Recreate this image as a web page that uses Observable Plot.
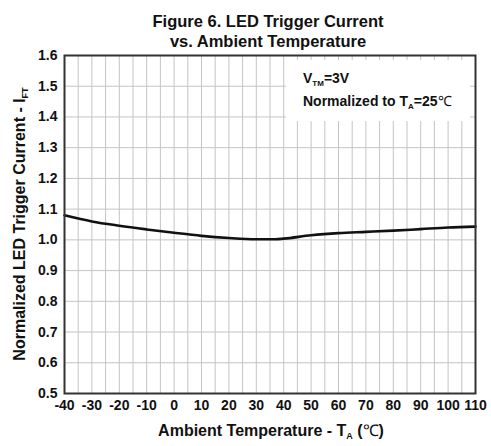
<!DOCTYPE html>
<html><head><meta charset="utf-8">
<script src="https://cdn.jsdelivr.net/npm/d3@7"></script>
<script src="https://cdn.jsdelivr.net/npm/@observablehq/plot@0.6"></script>
<style>
body{margin:0;background:#fff;}
svg text{font-family:"Liberation Sans",Arial,sans-serif;}
</style></head>
<body><div id="chart"></div>
<script>
const temps = [-40,-30,-20,-10,0,10,20,30,37,40,50,60,70,80,90,100,110];
const current = [1.080,1.060,1.046,1.034,1.023,1.013,1.006,1.002,1.002,1.004,1.015,1.022,1.026,1.030,1.035,1.040,1.043];
const xTicks = [-40,-30,-20,-10,0,10,20,30,40,50,60,70,80,90,100,110];
const yTicks = [0.5,0.6,0.7,0.8,0.9,1.0,1.1,1.2,1.3,1.4,1.5,1.6];
const xGrid = d3.range(-40, 111, 5);
const titleLines = ["Figure 6. LED Trigger Current","vs. Ambient Temperature"];

const data = temps.map((t,i)=>({t, v: current[i]}));

const plot = Plot.plot({
  width: 491, height: 446,
  marginLeft: 64, marginRight: 16, marginTop: 55, marginBottom: 53,
  x: {domain: [-40,110]},
  y: {domain: [0.5,1.6]},
  style: {fontFamily: "Liberation Sans, Arial, sans-serif", background: "#fff"},
  marks: [
    Plot.ruleX(xGrid, {stroke: "#c4c4c4", strokeWidth: 1}),
    Plot.ruleY(yTicks, {stroke: "#c4c4c4", strokeWidth: 1}),
    Plot.rect([{x1: 41, x2: 110, y1: 1.385, y2: 1.6}], {x1:"x1", x2:"x2", y1:"y1", y2:"y2", fill: "#fff", insetTop: 5, insetRight: 5}),
    Plot.line(data, {x: "t", y: "v", stroke: "#111", strokeWidth: 2.6, curve: "monotone-x"}),
    Plot.frame({stroke: "#333", strokeWidth: 2}),
    Plot.axisX(xTicks, {tickSize: 0, tickPadding: 7, fontSize: 14, fontWeight: "bold", fill: "#111", label: null, tickFormat: d=>String(d)}),
    Plot.axisY(yTicks, {tickSize: 0, tickPadding: 7, fontSize: 14, fontWeight: "bold", fill: "#111", label: null, tickFormat: d=>d.toFixed(1)})
  ]
});
document.getElementById("chart").appendChild(plot);

const svg = d3.select(plot);
const xs = plot.scale("x"), ys = plot.scale("y");
// title
titleLines.forEach((s,i)=>{
  svg.append("text").attr("x", 268).attr("y", 27 + i*20).attr("text-anchor","middle")
    .attr("font-size", 16.5).attr("font-weight","bold").attr("fill","#111").text(s);
});
// annotation
const ax = 303;
const t1 = svg.append("text").attr("x", ax).attr("y", 83).attr("text-anchor","start").attr("font-size", 14).attr("font-weight","bold").attr("fill","#111");
t1.append("tspan").text("V");
t1.append("tspan").attr("dy", 3).attr("font-size", 8).text("TM");
t1.append("tspan").attr("dy", -3).text("=3V");
const t2 = svg.append("text").attr("x", ax).attr("y", 106).attr("text-anchor","start").attr("font-size", 14).attr("font-weight","bold").attr("fill","#111");
t2.append("tspan").text("Normalized to T");
t2.append("tspan").attr("dy", 3).attr("font-size", 8).text("A");
t2.append("tspan").attr("dy", -3).text("=25");
t2.append("tspan").attr("font-weight","normal").text("℃");
// x label
const xl = svg.append("text").attr("x", 271).attr("y", 436).attr("text-anchor","middle").attr("font-size", 16).attr("font-weight","bold").attr("fill","#111");
xl.append("tspan").text("Ambient Temperature - T");
xl.append("tspan").attr("dy", 3).attr("font-size", 9).text("A");
xl.append("tspan").attr("dy", -3).text(" (");
xl.append("tspan").attr("font-weight","normal").text("℃");
xl.append("tspan").text(")");
// y label
const yl = svg.append("text").attr("transform", `translate(25,${(55+393)/2}) rotate(-90)`).attr("text-anchor","middle").attr("font-size", 16).attr("font-weight","bold").attr("fill","#111");
yl.append("tspan").text("Normalized LED Trigger Current - I");
yl.append("tspan").attr("dy", 3).attr("font-size", 9).text("FT");
</script>
</body></html>
